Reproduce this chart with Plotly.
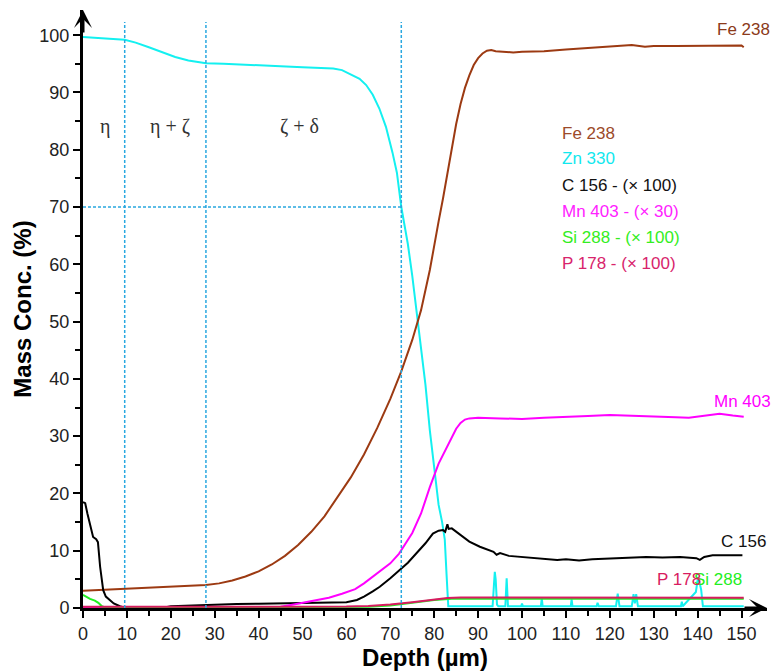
import plotly.graph_objects as go

# ---------------- data ----------------
fe_x = [0, 5, 10, 15, 20, 25, 28, 31, 34, 37, 40, 43, 46, 49, 52, 55, 58, 61, 64, 67, 70, 72.5,
        75, 77, 79, 80, 81, 82, 83, 84, 85, 86, 87, 88, 89, 90, 91, 92, 93, 94, 96, 98, 100,
        105, 110, 115, 120, 125, 128, 130, 135, 140, 145, 150, 150.5]
fe_y = [3.0, 3.2, 3.4, 3.6, 3.75, 3.9, 4.0, 4.3, 4.8, 5.5, 6.4, 7.6, 9.1, 11.0, 13.3, 16.0, 19.3, 22.8, 26.8, 31.4, 36.5, 41.3,
        46.8, 52.0, 59.0, 63.5, 67.5, 71.5, 76.0, 80.5, 84.5, 88.0, 90.8, 93.0, 94.8, 96.0, 96.8, 97.3, 97.4, 97.2, 97.1, 97.0, 97.1,
        97.2, 97.5, 97.8, 98.1, 98.3, 98.0, 98.1, 98.1, 98.1, 98.1, 98.2, 97.9]

zn_x = [0, 3, 6, 9.5, 12, 15, 18, 21, 24, 28, 32, 36, 40, 45, 50, 54, 57, 59, 61, 63, 64.5, 66, 67.5,
        69, 70.5, 71.5, 72.5, 74, 75, 76.3, 77, 78, 79, 80, 81, 81.8, 82.4, 82.8, 83.2, 83.6,
        93.3, 93.6, 93.8, 94.0, 94.3, 94.6, 96.2, 96.5, 96.8, 99.8, 100.0, 100.2,
        104.3, 104.5, 104.7, 111.1, 111.3, 111.5, 117.0, 117.2, 117.5, 121.4, 121.8, 122.2,
        125.0, 125.4, 125.7, 126.0, 126.4, 136.2, 136.4, 136.6, 139.6, 140.0, 140.4, 140.8, 141.2, 150.5]
zn_y = [99.7, 99.6, 99.4, 99.2, 98.7, 97.9, 97.1, 96.2, 95.6, 95.1, 95.0, 94.9, 94.8, 94.6, 94.4, 94.3, 94.2, 93.9, 93.2, 92.4, 91.3, 89.6, 87.2,
        84.0, 79.5, 76.0, 70.0, 63.5, 58.0, 49.5, 46.0, 39.0, 31.0, 24.0, 18.0, 15.0, 12.0, 6.0, 0.3, 0.3,
        0.3, 4.0, 6.3, 5.0, 0.6, 0.3, 0.3, 5.2, 0.3, 0.3, 0.8, 0.3,
        0.3, 1.7, 0.3, 0.3, 1.5, 0.3, 0.3, 0.9, 0.3, 0.3, 2.5, 0.3,
        0.3, 2.4, 0.8, 2.4, 0.3, 0.3, 1.1, 0.3, 2.8, 4.9, 4.6, 3.2, 0.3, 0.3]

c_x = [0, 0.5, 1, 1.6, 2.3, 3, 3.4, 3.9, 4.6, 5.2, 6.1, 7, 8.4, 9.5, 12, 18, 20, 25, 28, 32, 35, 40, 45, 50, 55, 58, 60,
       62.4, 64, 66, 67.6, 70, 72.2, 74, 76, 78, 79.7, 81, 82, 82.5, 83, 83.3, 84, 85, 86.5, 88, 90.4, 92, 93.5,
       94.2, 95, 97, 100, 103, 105.6, 108, 110, 113, 116, 120, 125, 128.3, 132, 136, 139.7, 140.5, 141.5, 143.4, 147, 150.2]
c_y = [18.5, 18.3, 16.5, 14.8, 12.4, 12.0, 11.5, 7.2, 3.1, 2.0, 1.4, 0.8, 0.3, 0.05, 0.0, 0.0, 0.3, 0.45, 0.5, 0.6, 0.7, 0.75, 0.8, 0.8, 0.85, 0.9, 1.0,
       1.4, 2.0, 2.9, 3.7, 5.2, 6.6, 7.9, 9.6, 11.3, 13.0, 13.5, 13.6, 13.3, 14.6, 13.8, 13.9, 13.3, 12.4, 11.6, 10.7, 10.2, 9.8,
       9.3, 9.6, 9.1, 8.9, 8.6, 8.5, 8.4, 8.5, 8.3, 8.5, 8.6, 8.7, 8.9, 8.8, 8.9, 8.7, 8.4, 8.9, 9.2, 9.2, 9.2]

mn_x = [0, 20, 45, 48, 50, 53, 56, 59, 62, 64, 67, 70, 72, 74, 75, 77, 79, 81, 83, 84, 85, 86, 87, 88, 90,
        95, 100, 105, 110, 115, 120, 125, 130, 135, 138, 142, 145, 148, 150.5]
mn_y = [0.1, 0.1, 0.2, 0.6, 0.9, 1.3, 1.8, 2.5, 3.3, 4.3, 6.0, 7.8, 9.5, 11.8, 13.1, 16.5, 21.1, 25.2, 28.3, 30.0, 31.3, 32.3, 32.9, 33.1, 33.2,
        33.1, 33.0, 33.2, 33.3, 33.5, 33.7, 33.6, 33.5, 33.3, 33.2, 33.6, 33.9, 33.6, 33.4]

si_x = [0, 0.8, 1.6, 2.7, 3.5, 4.3, 5, 10, 60, 65, 70, 75, 80, 84, 90, 100, 110, 120, 130, 140, 150.5]
si_y = [2.3, 1.9, 1.6, 1.3, 0.9, 0.3, 0.1, 0.1, 0.1, 0.2, 0.45, 0.9, 1.4, 1.6, 1.6, 1.55, 1.6, 1.6, 1.55, 1.6, 1.6]

p_x = [0, 20, 40, 60, 65, 70, 75, 80, 83, 86, 90, 100, 110, 120, 130, 140, 150.5]
p_y = [0.2, 0.2, 0.2, 0.25, 0.35, 0.6, 1.0, 1.5, 1.75, 1.85, 1.85, 1.8, 1.8, 1.8, 1.8, 1.8, 1.8]

phase_bounds = [9.5, 28, 72.5]
phase_labels = ["η", "η + ζ", "ζ + δ"]
phase_label_x = [5, 19.8, 49.3]
zn70_level = 70

legend_items = ["Fe 238", "Zn 330", "C 156 - (× 100)", "Mn 403 - (× 30)", "Si 288 - (× 100)", "P 178 - (× 100)"]
legend_colors = ["#9c4a2a", "#11e8ee", "#111111", "#ff22ff", "#33ee22", "#d8246c"]

# ---------------- figure ----------------
FONT = "Arial, Liberation Sans, sans-serif"
fig = go.Figure()

series = [
    ("Zn 330", zn_x, zn_y, "#14f0f0"),
    ("Fe 238", fe_x, fe_y, "#9c3a12"),
    ("C 156", c_x, c_y, "#000000"),
    ("Mn 403", mn_x, mn_y, "#ff00ff"),
    ("Si 288", si_x, si_y, "#22ee22"),
    ("P 178", p_x, p_y, "#d81b60"),
]
for name, xs, ys, col in series:
    fig.add_trace(go.Scatter(x=xs, y=ys, mode="lines", name=name,
                             line=dict(color=col, width=2), showlegend=False))

dash_col = "#29a8e0"
for xb in phase_bounds:
    fig.add_shape(type="line", xref="x", yref="y", x0=xb, x1=xb, y0=0, y1=102.3,
                  line=dict(color=dash_col, width=1.5, dash="3px,2px"))
fig.add_shape(type="line", xref="x", yref="y", x0=0, x1=phase_bounds[2], y0=zn70_level, y1=zn70_level,
              line=dict(color=dash_col, width=1.5, dash="3px,2px"))

for lab, lx in zip(phase_labels, phase_label_x):
    fig.add_annotation(x=lx, y=84, xref="x", yref="y", text=lab, showarrow=False,
                       font=dict(family="Liberation Serif, Times New Roman, serif", size=20, color="#333333"))

# colored legend text block
leg_y = [82.9, 78.5, 73.8, 69.3, 64.7, 60.2]
for txt, col, ly in zip(legend_items, legend_colors, leg_y):
    fig.add_annotation(x=108.6, y=ly, xref="x", yref="y", text=txt, showarrow=False,
                       xanchor="left", yanchor="middle", font=dict(family=FONT, size=17, color=col))

# end-of-line labels (paper x so they may sit past the axis end)
end_labels = [
    ("Fe 238", 1.008, 101.0, "right", "#8b3a1a"),
    ("Mn 403", 1.009, 36.0, "right", "#ff00ff"),
    ("C 156", 1.002, 11.6, "right", "#111111"),
    ("Si 288", 0.967, 4.9, "right", "#22ee22"),
    ("P 178", 0.836, 4.9, "left", "#d81b60"),
]
for txt, lx, ly, anc, col in end_labels:
    fig.add_annotation(x=lx, y=ly, xref="paper", yref="y", text=txt, showarrow=False,
                       xanchor=anc, yanchor="middle", font=dict(family=FONT, size=17, color=col))

# axis arrows
fig.add_annotation(x=0, y=104.4, xref="x", yref="y", ax=0, ay=24, text="", showarrow=True,
                   arrowhead=3, arrowsize=1, arrowwidth=3, arrowcolor="black", standoff=0)
fig.add_annotation(x=155.8, y=0, xref="x", yref="y", ax=-24, ay=0, text="", showarrow=True,
                   arrowhead=3, arrowsize=1, arrowwidth=3, arrowcolor="black", standoff=0)

axis_common = dict(showgrid=False, zeroline=False, showline=True, linecolor="black", linewidth=3,
                   ticks="outside", ticklen=7, tickwidth=2, tickcolor="black",
                   tickfont=dict(family=FONT, size=18, color="#222222"), automargin=False)

fig.update_xaxes(range=[0, 155.8], tickmode="linear", tick0=0, dtick=10,
                 minor=dict(tickmode="array", tickvals=[5, 15, 25, 35, 45, 55, 65, 75, 85, 95, 105, 115, 125, 135, 145],
                            ticks="outside", ticklen=5, tickwidth=2, tickcolor="black"),
                 title=dict(text="<b>Depth (µm)</b>", font=dict(family=FONT, size=24, color="black"), standoff=4),
                 **axis_common)
fig.update_yaxes(range=[0, 104.4], tickmode="linear", tick0=0, dtick=10,
                 minor=dict(tickmode="array", tickvals=[5, 15, 25, 35, 45, 55, 65, 75, 85, 95],
                            ticks="outside", ticklen=5, tickwidth=2, tickcolor="black"),
                 title=dict(text="<b>Mass Conc. (%)</b>", font=dict(family=FONT, size=24, color="black"), standoff=1),
                 **axis_common)

fig.update_layout(width=774, height=671, margin=dict(l=83, r=7, t=10, b=63),
                  plot_bgcolor="white", paper_bgcolor="white", showlegend=False)

fig.write_html("out.html", config={"displayModeBar": False},
               post_script="document.body.style.margin='0';document.body.style.overflow='hidden';")
